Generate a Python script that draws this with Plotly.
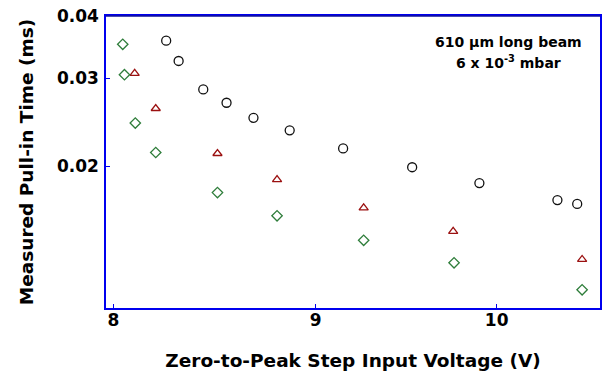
import plotly.graph_objects as go
import math

# Data (voltage in V, pull-in time in ms)
circle_v = [8.25, 8.31, 8.43, 8.545, 8.68, 8.865, 9.145, 9.52, 9.90, 10.36, 10.48]
circle_t = [0.0357, 0.0325, 0.0285, 0.0268, 0.0250, 0.0236, 0.0217, 0.0199, 0.0185, 0.0171, 0.0168]

tri_v = [8.10, 8.20, 8.50, 8.80, 9.255, 9.75, 10.51]
tri_t = [0.0307, 0.0261, 0.0212, 0.0188, 0.0165, 0.0148, 0.0130]

dia_v = [8.044, 8.052, 8.103, 8.20, 8.50, 8.80, 9.255, 9.755, 10.51]
dia_t = [0.0351, 0.0305, 0.0244, 0.0213, 0.0177, 0.0159, 0.0142, 0.0128, 0.0113]

x_ticks = [8, 9, 10]
y_ticks = [0.02, 0.03, 0.04]
y_tick_text = ["0.02", "0.03", "0.04"]

FONT = "DejaVu Sans, Verdana, sans-serif"

fig = go.Figure()
fig.add_trace(go.Scatter(x=circle_v, y=circle_t, mode="markers",
                         marker=dict(symbol="circle-open", size=9, color="#111111",
                                     line=dict(width=1.3, color="#111111"))))
fig.add_trace(go.Scatter(x=tri_v, y=tri_t, mode="markers",
                         marker=dict(symbol="triangle-up-open", size=8, color="#9b1010",
                                     line=dict(width=1.3, color="#9b1010"))))
fig.add_trace(go.Scatter(x=dia_v, y=dia_t, mode="markers",
                         marker=dict(symbol="diamond-open", size=8, color="#2e7d3a",
                                     line=dict(width=1.3, color="#2e7d3a"))))

plot_l, plot_r, plot_t, plot_b = 106, 602, 16, 308
def px(x):
    return (x - plot_l) / (plot_r - plot_l)
def py(y):
    return (plot_b - y) / (plot_b - plot_t)

fig.update_layout(
    width=603, height=375,
    margin=dict(l=106, r=1, t=16, b=67),
    paper_bgcolor="white", plot_bgcolor="white",
    showlegend=False,
    font=dict(family=FONT, color="black"),
    xaxis=dict(type="log", range=[math.log10(7.966), math.log10(10.62)],
               tickvals=x_ticks, ticktext=[str(v) for v in x_ticks],
               ticks="inside", ticklen=4, tickcolor="#0000ee", tickwidth=1,
               ticklabelstandoff=-4,
               showline=True, linecolor="#0000ee", linewidth=1.5, mirror=True,
               showgrid=False, zeroline=False,
               tickfont=dict(size=17, family=FONT, weight="bold"),
               title=dict(text="<b>Zero-to-Peak Step Input Voltage (V)</b>",
                          font=dict(size=18.5, family=FONT), standoff=25)),
    yaxis=dict(type="log", range=[-1.9834, math.log10(0.04)],
               tickvals=y_ticks, ticktext=y_tick_text,
               ticks="inside", ticklen=4, tickcolor="#0000ee", tickwidth=1,
               ticklabelstandoff=2,
               showline=True, linecolor="#0000ee", linewidth=1.5, mirror=True,
               showgrid=False, zeroline=False,
               tickfont=dict(size=17, family=FONT, weight="bold"),
               title=dict(text="<b>Measured Pull-in Time (ms)</b>",
                          font=dict(size=18.5, family=FONT), standoff=18)),
    shapes=[dict(type="line", xref="paper", yref="paper", x0=0, x1=1, y0=1, y1=1,
                 line=dict(color="#10109a", width=1.5))],
    annotations=[
        dict(text="<b>610 \u03bcm long beam</b>", x=px(510), y=py(42),
             xref="paper", yref="paper", xanchor="center", yanchor="middle",
             showarrow=False, font=dict(size=14, family=FONT)),
        dict(text="<b>6 x 10<sup>-3</sup> mbar</b>", x=px(510), y=py(62),
             xref="paper", yref="paper", xanchor="center", yanchor="middle",
             showarrow=False, font=dict(size=14, family=FONT)),
    ],
)

fig.write_html("out.html")
